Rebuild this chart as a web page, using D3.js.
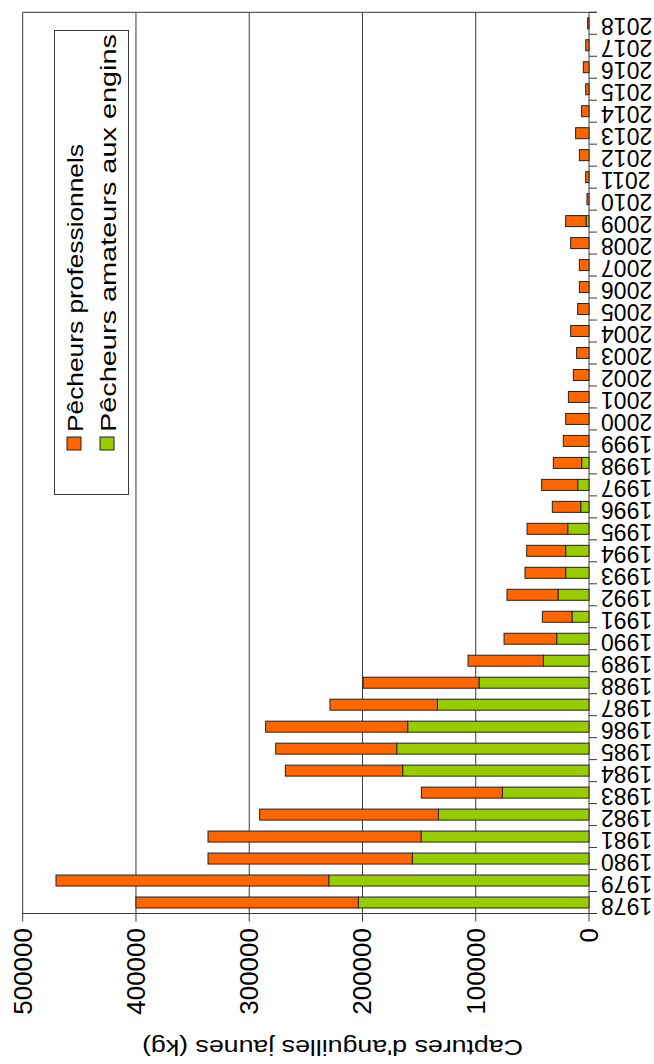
<!DOCTYPE html>
<html><head><meta charset="utf-8">
<script src="https://cdn.jsdelivr.net/npm/d3@7"></script>
<style>html,body{margin:0;padding:0;background:#fff}svg{display:block}text{font-family:"Liberation Sans",Arial,sans-serif;fill:#000}</style>
</head><body>
<script>
const years = ["1978","1979","1980","1981","1982","1983","1984","1985","1986","1987","1988","1989","1990","1991","1992","1993","1994","1995","1996","1997","1998","1999","2000","2001","2002","2003","2004","2005","2006","2007","2008","2009","2010","2011","2012","2013","2014","2015","2016","2017","2018"];
const amateurs = [203700,229800,156000,148300,133000,76500,164500,169800,160100,133900,97100,40300,28500,15000,27400,20600,20600,18800,7300,10000,6500,0,0,0,0,0,0,0,0,0,0,2600,0,0,0,0,0,0,0,0,0];
const professionnels = [196300,240800,180400,188100,157800,71500,103600,106800,125400,94800,102200,66500,46500,26200,45000,35900,34400,35900,25100,31800,25000,22700,20600,18200,13800,10900,16200,10000,8500,8500,16200,18000,1800,2900,8500,11800,6500,2900,5000,2900,1200];
const valueTicks = [0,100000,200000,300000,400000,500000];
const seriesNames = ["Pêcheurs professionnels","Pêcheurs amateurs aux engins"];
const colors = ["#FF6600","#99CC00"];

const W=654,H=1064;
const svg=d3.select("body").append("svg").attr("width",W).attr("height",H);
const x0=589, x1=22.7, yTop=12.3, yBot=913.5;
const x=d3.scaleLinear().domain([0,500000]).range([x0,x1]);
const y=d3.scaleBand().domain(years.slice().reverse()).range([yTop,yBot]).paddingInner(0.5).paddingOuter(0.25);
const lineCol="#3a3a3a";

// gridlines
svg.append("g").selectAll("line").data(valueTicks.filter(d=>d>0)).join("line")
  .attr("x1",d=>x(d)).attr("x2",d=>x(d)).attr("y1",yTop).attr("y2",yBot+8)
  .attr("stroke",lineCol).attr("stroke-width",1);
// value tick at 0
svg.append("line").attr("x1",x0).attr("x2",x0).attr("y1",yTop).attr("y2",yBot+8).attr("stroke",lineCol);
// top frame
svg.append("line").attr("x1",x1).attr("x2",x0+8).attr("y1",yTop).attr("y2",yTop).attr("stroke",lineCol);
// bottom axis line
svg.append("line").attr("x1",x1).attr("x2",x0+8).attr("y1",yBot).attr("y2",yBot).attr("stroke",lineCol);
// category ticks
const bounds = years.map((d,i)=>y(d)-y.step()*0.25);
svg.append("g").selectAll("line").data(years).join("line")
  .attr("x1",x0).attr("x2",x0+8)
  .attr("y1",d=>y(d)-y.step()*0.25).attr("y2",d=>y(d)-y.step()*0.25)
  .attr("stroke",lineCol);

// bars
const g=svg.append("g");
years.forEach((yr,i)=>{
  const a=amateurs[i], p=professionnels[i];
  if(a>0) g.append("rect").attr("x",x(a)).attr("y",y(yr)).attr("width",x(0)-x(a)).attr("height",y.bandwidth())
    .attr("fill",colors[1]).attr("stroke","#222").attr("stroke-width",1);
  if(p>0) g.append("rect").attr("x",x(a+p)).attr("y",y(yr)).attr("width",x(a)-x(a+p)).attr("height",y.bandwidth())
    .attr("fill",colors[0]).attr("stroke","#222").attr("stroke-width",1);
});

// year labels (upside down)
svg.append("g").selectAll("text").data(years).join("text")
  .attr("transform",d=>`translate(601,${y(d)+y.bandwidth()/2-5}) rotate(180)`)
  .attr("text-anchor","end").attr("font-size",23).text(d=>d);

// value labels
svg.append("g").selectAll("text").data(valueTicks).join("text")
  .attr("transform",d=>`translate(${x(d)},928) rotate(-90)`)
  .attr("text-anchor","end").attr("dominant-baseline","central").attr("font-size",26).text(d=>d);

// axis title
svg.append("text").attr("transform","translate(332.5,1040) rotate(180)")
  .attr("text-anchor","middle").attr("font-size",22).attr("textLength",381).attr("lengthAdjust","spacingAndGlyphs")
  .text("Captures d'anguilles jaunes (kg)");

// legend
svg.append("rect").attr("x",54.5).attr("y",30.5).attr("width",74).attr("height",464).attr("fill","#fff").attr("stroke",lineCol);
const legX=[67,100];
const legLen=[288,398];
seriesNames.forEach((n,i)=>{
  svg.append("rect").attr("x",legX[i]).attr("y",437).attr("width",14).attr("height",13).attr("fill",colors[i]).attr("stroke","#222");
  svg.append("text").attr("transform",`translate(${legX[i]+16},432) rotate(-90)`)
    .attr("font-size",22).attr("textLength",legLen[i]).attr("lengthAdjust","spacingAndGlyphs").text(n);
});
</script>
</body></html>
